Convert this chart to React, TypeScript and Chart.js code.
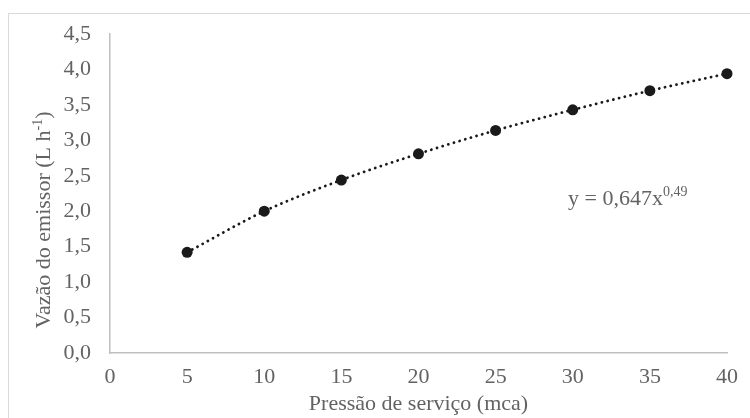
import React, { useEffect, useRef } from "react";
import { Chart, registerables } from "chart.js";

Chart.register(...registerables);

const pressure = [5, 10, 15, 20, 25, 30, 35, 40];
const flow = [1.42, 2.0, 2.44, 2.81, 3.14, 3.43, 3.7, 3.94];
const xMin = 0;
const xMax = 40;
const xStep = 5;
const yMin = 0;
const yMax = 4.5;
const yStep = 0.5;
const xTitle = "Pressão de serviço (mca)";
const yTitleMain = "Vazão do emissor (L h";
const yTitleSup = "-1";
const yTitleEnd = ")";
const eqMain = "y = 0,647x";
const eqSup = "0,49";

const FONT = "'Liberation Serif', 'Times New Roman', serif";
const TEXT = "#636363";
const AXIS = "#bfbfbf";

const textPlugin = {
  id: "customText",
  afterDraw(chart: any) {
    const ctx = chart.ctx as CanvasRenderingContext2D;
    ctx.save();
    ctx.fillStyle = TEXT;
    ctx.textBaseline = "alphabetic";
    ctx.textAlign = "left";
    const big = `22px ${FONT}`;
    const small = `14px ${FONT}`;
    ctx.font = big;
    const w1 = ctx.measureText(yTitleMain).width;
    const w3 = ctx.measureText(yTitleEnd).width;
    ctx.font = small;
    const w2 = ctx.measureText(yTitleSup).width;
    const total = w1 + w2 + w3;
    ctx.translate(49.5, 220);
    ctx.rotate(-Math.PI / 2);
    let x = -total / 2;
    ctx.font = big;
    ctx.fillText(yTitleMain, x, 0);
    x += w1;
    ctx.font = small;
    ctx.fillText(yTitleSup, x, -8);
    x += w2;
    ctx.font = big;
    ctx.fillText(yTitleEnd, x, 0);
    ctx.restore();

    ctx.save();
    ctx.fillStyle = TEXT;
    ctx.textBaseline = "alphabetic";
    ctx.textAlign = "left";
    ctx.font = big;
    const ex = 568;
    const ey = 205;
    ctx.fillText(eqMain, ex, ey);
    const ew = ctx.measureText(eqMain).width;
    ctx.font = small;
    ctx.fillText(eqSup, ex + ew, ey - 9);
    ctx.restore();
  },
};

export default function App() {
  const ref = useRef<HTMLCanvasElement | null>(null);

  useEffect(() => {
    if (!ref.current) return;
    const chart = new Chart(ref.current, {
      type: "scatter",
      data: {
        datasets: [
          {
            data: pressure.map((p, i) => ({ x: p, y: flow[i] })),
            showLine: true,
            borderColor: "#1a1a1a",
            borderWidth: 2.8,
            borderDash: [0.1, 5.8],
            borderCapStyle: "round",
            tension: 0.4,
            cubicInterpolationMode: "monotone",
            pointRadius: 5.5,
            pointBackgroundColor: "#1a1a1a",
            pointBorderWidth: 0,
            clip: false,
          } as any,
        ],
      },
      options: {
        responsive: false,
        animation: false,
        events: [],
        layout: { padding: { left: 0, top: 34, right: 23, bottom: 0 } },
        plugins: {
          legend: { display: false },
          tooltip: { enabled: false },
        },
        scales: {
          x: {
            type: "linear",
            min: xMin,
            max: xMax,
            ticks: {
              stepSize: xStep,
              color: TEXT,
              font: { family: FONT, size: 22 },
              padding: 11,
              maxRotation: 0,
              autoSkip: false,
            },
            grid: { display: false, drawTicks: false },
            border: { display: true, color: AXIS, width: 1.5 },
            title: {
              display: true,
              text: xTitle,
              color: TEXT,
              font: { family: FONT, size: 22 },
              padding: { top: 0, bottom: 1 },
            },
            afterFit: (s: any) => {
              s.height = 65;
            },
          },
          y: {
            type: "linear",
            min: yMin,
            max: yMax,
            ticks: {
              stepSize: yStep,
              color: TEXT,
              font: { family: FONT, size: 22 },
              padding: 19,
              callback: (v: any) => Number(v).toFixed(1).replace(".", ","),
            },
            grid: { display: false, drawTicks: false },
            border: { display: true, color: AXIS, width: 1.5 },
            afterFit: (s: any) => {
              s.width = 110;
            },
          },
        },
      },
      plugins: [textPlugin],
    });
    return () => chart.destroy();
  }, []);

  return (
    <div
      style={{
        position: "fixed",
        left: 0,
        top: 0,
        width: 750,
        height: 418,
        overflow: "hidden",
        background: "#ffffff",
      }}
    >
      <div
        style={{
          position: "absolute",
          left: 8,
          top: 13,
          width: 900,
          height: 600,
          borderLeft: "1px solid #d9d9d9",
          borderTop: "1px solid #d9d9d9",
        }}
      />
      <canvas
        ref={ref}
        width={750}
        height={418}
        style={{ position: "absolute", left: 0, top: 0, width: 750, height: 418 }}
      />
    </div>
  );
}
